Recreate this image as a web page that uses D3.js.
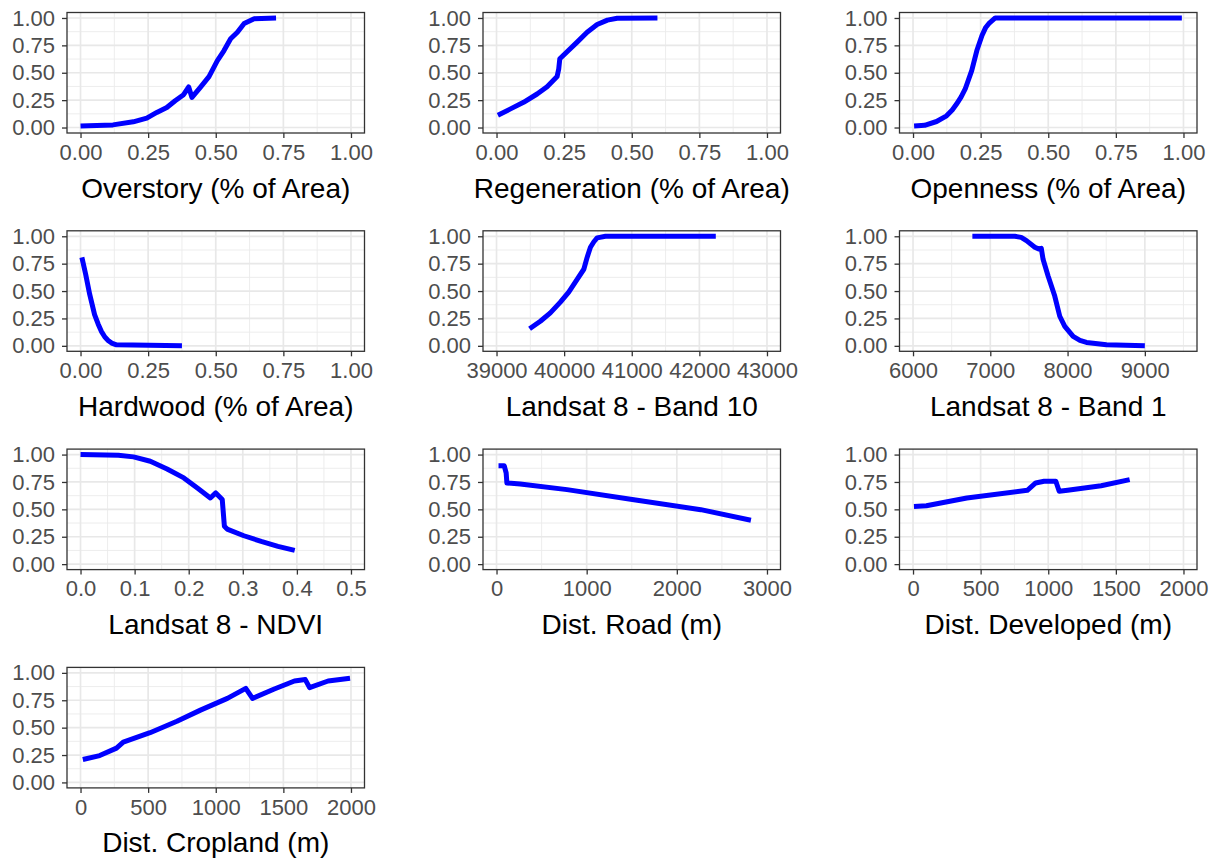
<!DOCTYPE html>
<html>
<head>
<meta charset="utf-8">
<script src="https://cdn.jsdelivr.net/npm/d3@7"></script>
<style>
  body { margin: 0; background: #fff; }
  svg { display: block; font-family: "Liberation Sans", Arial, sans-serif; }
</style>
</head>
<body>
<svg id="chart" width="1217" height="862"></svg>
<script>
// response curves as [x, y]
const overstory = [[0,0.015],[0.12,0.024],[0.195,0.052],[0.245,0.086],[0.282,0.138],[0.319,0.183],[0.35,0.245],[0.381,0.3],[0.4,0.37],[0.412,0.275],[0.443,0.367],[0.475,0.465],[0.506,0.61],[0.53,0.7],[0.555,0.81],[0.58,0.87],[0.605,0.95],[0.642,0.994],[0.723,1.0]];
const regeneration = [[0.005,0.113],[0.05,0.168],[0.1,0.23],[0.15,0.306],[0.187,0.373],[0.224,0.465],[0.23,0.535],[0.234,0.627],[0.26,0.69],[0.298,0.78],[0.335,0.87],[0.372,0.94],[0.41,0.98],[0.446,0.997],[0.595,1.0]];
const openness = [[0.004,0.015],[0.043,0.02],[0.087,0.055],[0.124,0.107],[0.145,0.16],[0.161,0.214],[0.178,0.28],[0.193,0.352],[0.217,0.52],[0.236,0.703],[0.255,0.84],[0.268,0.91],[0.28,0.948],[0.304,1.0],[0.994,1.0]];
const hardwood = [[0.005,0.807],[0.019,0.653],[0.034,0.469],[0.052,0.285],[0.065,0.2],[0.077,0.132],[0.09,0.08],[0.102,0.049],[0.115,0.025],[0.133,0.009],[0.375,0.0]];
const band10 = [[39489,0.156],[39648,0.224],[39796,0.301],[39944,0.399],[40068,0.49],[40192,0.607],[40291,0.699],[40340,0.807],[40389,0.9],[40440,0.95],[40488,0.985],[40612,1.0],[42243,1.0]];
const band1 = [[6768,1.0],[7317,1.0],[7400,0.99],[7468,0.96],[7576,0.9],[7632,0.883],[7660,0.89],[7683,0.79],[7748,0.638],[7834,0.454],[7899,0.27],[7964,0.178],[8072,0.086],[8160,0.05],[8245,0.031],[8504,0.009],[9000,0.0]];
const ndvi = [[0,1.0],[0.07,0.994],[0.098,0.979],[0.129,0.939],[0.16,0.869],[0.191,0.787],[0.216,0.695],[0.24,0.604],[0.25,0.65],[0.262,0.59],[0.266,0.345],[0.271,0.32],[0.302,0.259],[0.334,0.207],[0.365,0.162],[0.396,0.125]];
const distRoad = [[22,0.899],[85,0.899],[107,0.832],[115,0.741],[263,0.732],[782,0.68],[1524,0.588],[2266,0.497],[2822,0.4]];
const distDeveloped = [[7,0.527],[99,0.533],[398,0.604],[845,0.674],[907,0.741],[969,0.756],[1056,0.756],[1081,0.665],[1143,0.674],[1391,0.716],[1602,0.771]];
const distCropland = [[17,0.209],[142,0.245],[266,0.313],[316,0.368],[514,0.454],[713,0.558],[887,0.66],[1086,0.767],[1222,0.859],[1272,0.767],[1433,0.853],[1582,0.926],[1662,0.939],[1694,0.865],[1831,0.926],[1993,0.951]];

const titles = ["Overstory (% of Area)", "Regeneration (% of Area)", "Openness (% of Area)",
  "Hardwood (% of Area)", "Landsat 8 - Band 10", "Landsat 8 - Band 1",
  "Landsat 8 - NDVI", "Dist. Road (m)", "Dist. Developed (m)", "Dist. Cropland (m)"];

const shareTicks = [0, 0.25, 0.5, 0.75, 1];
const band10Ticks = [39000, 40000, 41000, 42000, 43000];
const band1Ticks = [6000, 7000, 8000, 9000];
const ndviTicks = [0, 0.1, 0.2, 0.3, 0.4, 0.5];
const roadTicks = [0, 1000, 2000, 3000];
const distTicks = [0, 500, 1000, 1500, 2000];
const yTicks = [0, 0.25, 0.5, 0.75, 1];

const panels = [
  { data: overstory, lim: [0, 1], ticks: shareTicks, fmt: d3.format(".2f") },
  { data: regeneration, lim: [0, 1], ticks: shareTicks, fmt: d3.format(".2f") },
  { data: openness, lim: [0, 1], ticks: shareTicks, fmt: d3.format(".2f") },
  { data: hardwood, lim: [0, 1], ticks: shareTicks, fmt: d3.format(".2f") },
  { data: band10, lim: [39000, 43000], ticks: band10Ticks, fmt: d3.format("d") },
  { data: band1, lim: [6000, 9500], ticks: band1Ticks, fmt: d3.format("d") },
  { data: ndvi, lim: [0, 0.5], ticks: ndviTicks, fmt: d3.format(".1f") },
  { data: distRoad, lim: [0, 3000], ticks: roadTicks, fmt: d3.format("d") },
  { data: distDeveloped, lim: [0, 2000], ticks: distTicks, fmt: d3.format("d") },
  { data: distCropland, lim: [0, 2000], ticks: distTicks, fmt: d3.format("d") }
];

const svg = d3.select("#chart");
const colLeft = [67, 483, 899.5];
const pw = 297.5, ph = 120.5;

// ggplot style 5% expansion on both ends
function expand(lim) {
  const pad = (lim[1] - lim[0]) * 0.05;
  return [lim[0] - pad, lim[1] + pad];
}

// midpoints between major ticks (plus one beyond the ends if inside the range)
function minorTicks(ticks, dom) {
  const step = ticks[1] - ticks[0];
  const out = [];
  for (let i = -1; i < ticks.length; i++) {
    const m = ticks[0] + step * (i + 0.5);
    if (m > dom[0] && m < dom[1]) out.push(m);
  }
  return out;
}

panels.forEach((p, i) => {
  const left = colLeft[i % 3];
  const top = 12.5 + Math.floor(i / 3) * 218.3;
  const xDom = expand(p.lim), yDom = expand([0, 1]);
  const x = d3.scaleLinear().domain(xDom).range([0, pw]);
  const y = d3.scaleLinear().domain(yDom).range([ph, 0]);

  const g = svg.append("g").attr("transform", `translate(${left},${top})`);

  g.append("rect").attr("width", pw).attr("height", ph).attr("fill", "#fff");

  const grid = g.append("g");
  minorTicks(p.ticks, xDom).forEach(v => grid.append("line")
    .attr("x1", x(v)).attr("x2", x(v)).attr("y1", 0).attr("y2", ph)
    .attr("stroke", "#ebebeb").attr("stroke-width", 0.9));
  minorTicks(yTicks, yDom).forEach(v => grid.append("line")
    .attr("y1", y(v)).attr("y2", y(v)).attr("x1", 0).attr("x2", pw)
    .attr("stroke", "#ebebeb").attr("stroke-width", 0.9));
  p.ticks.forEach(v => grid.append("line")
    .attr("x1", x(v)).attr("x2", x(v)).attr("y1", 0).attr("y2", ph)
    .attr("stroke", "#e8e8e8").attr("stroke-width", 1.7));
  yTicks.forEach(v => grid.append("line")
    .attr("y1", y(v)).attr("y2", y(v)).attr("x1", 0).attr("x2", pw)
    .attr("stroke", "#e8e8e8").attr("stroke-width", 1.7));

  const line = d3.line().x(d => x(d[0])).y(d => y(d[1]));
  g.append("path").datum(p.data).attr("d", line)
    .attr("fill", "none").attr("stroke", "#0000ff")
    .attr("stroke-width", 5).attr("stroke-linejoin", "round");

  g.append("rect").attr("width", pw).attr("height", ph)
    .attr("fill", "none").attr("stroke", "#333333").attr("stroke-width", 1.3);

  const xAxis = g.append("g").attr("transform", `translate(0,${ph})`)
    .call(d3.axisBottom(x).tickValues(p.ticks).tickFormat(p.fmt).tickSize(5).tickPadding(6));
  const yAxis = g.append("g")
    .call(d3.axisLeft(y).tickValues(yTicks).tickFormat(d3.format(".2f")).tickSize(5).tickPadding(7));
  [xAxis, yAxis].forEach(a => {
    a.select(".domain").remove();
    a.selectAll(".tick line").attr("stroke", "#333333").attr("stroke-width", 1.3);
    a.selectAll(".tick text").attr("fill", "#4d4d4d")
      .style("font-size", "22px").style("font-family", "Liberation Sans, Arial, sans-serif");
  });

  g.append("text").attr("x", pw / 2).attr("y", ph + 55)
    .attr("text-anchor", "middle").attr("dominant-baseline", "central")
    .style("font-size", "28px").attr("fill", "#000")
    .text(titles[i]);
});
</script>
</body>
</html>
